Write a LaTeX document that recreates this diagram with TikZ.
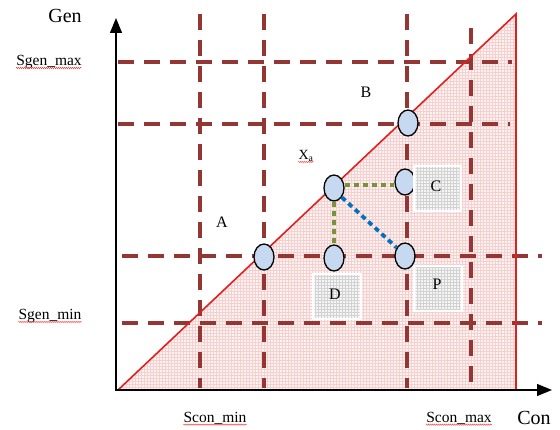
\documentclass[tikz,border=0pt]{standalone}
\usepackage{fontspec}
\setmainfont{Liberation Serif}
\usetikzlibrary{arrows.meta,shapes.geometric,decorations.pathmorphing,calc}
\definecolor{dred}{HTML}{943634}
\definecolor{tri}{HTML}{E0201E}
\definecolor{pinkbg}{HTML}{FDF3F3}
\definecolor{pinkgrid}{HTML}{F6CFCF}
\definecolor{ellfill}{HTML}{C6D9F1}
\definecolor{dgreen}{HTML}{77933C}
\definecolor{dblue}{HTML}{0070C0}
\tikzset{
  dline/.style={dred, line width=3.6pt, dash pattern=on 16pt off 10pt},
  pt/.style={ellipse, draw=black, line width=1.3pt, fill=ellfill, minimum width=20pt, minimum height=26pt, inner sep=0pt},
  gdot/.style={dgreen, line width=3.8pt, dash pattern=on 5pt off 4pt},
  bdot/.style={dblue, line width=3.8pt, dash pattern=on 5pt off 4pt},
  lab/.style={font=\fontsize{15.5}{17}\selectfont, inner sep=0pt},
  let/.style={font=\fontsize{16}{18}\selectfont, inner sep=0pt},
  big/.style={font=\fontsize{20}{22}\selectfont, inner sep=0pt},
  squig/.style={red!80, line width=0.4pt, decorate, decoration={zigzag, amplitude=0.7pt, segment length=2pt}},
}
\begin{document}
\begin{tikzpicture}[x=1pt,y=-1pt]
\useasboundingbox (0,0) rectangle (560,430);
% triangle fill with grid
\begin{scope}
\clip (118,390) -- (516,14) -- (516,390) -- cycle;
\fill[pinkbg] (118,14) rectangle (516,390);
\draw[pinkgrid, line width=0.3pt, step=3pt] (118,12) grid (518,392);
\end{scope}
% dashed grid lines
\draw[dline] (118,62) -- (512,62);
\draw[dline] (118,124) -- (510,124);
\draw[dline] (122,256) -- (542,256);
\draw[dline] (122,323) -- (542,323);
\draw[dline] (200,14) -- (200,388);
\draw[dline] (264,14) -- (264,388);
\draw[dline] (407,14) -- (407,388);
\draw[dline] (471,28) -- (471,388);
% triangle outline
\draw[tri, line width=1.6pt] (118,390) -- (516,14) -- (516,390) -- cycle;
% axes
\draw[black, line width=1.3pt, -{Triangle[length=15pt,width=12pt]}] (116,391) -- (116,18);
\draw[black, line width=1.3pt, -{Triangle[length=15pt,width=12pt]}] (116,390) -- (552,390);
% ellipses
\node[pt] (e1) at (264,257) {};
\node[pt] (xa) at (334,188) {};
\node[pt] (e3) at (408,123) {};
\node[pt] (ec) at (405,182) {};
\node[pt] (ed) at (334,258) {};
\node[pt] (ep) at (405,256) {};
% boxes
\foreach \ax/\ay/\bx/\by in {413/165/462/212, 312/273/362/320, 413/265/463/312}{
  \fill[white] (\ax,\ay) rectangle (\bx,\by);
  \begin{scope}
  \path[clip] (\ax+2.5,\ay+2.5) rectangle (\bx-2.5,\by-2.5);
  \fill[gray!8] (\ax,\ay) rectangle (\bx,\by);
  \draw[gray!35, line width=0.3pt, step=3pt] (300,150) grid (480,330);
  \end{scope}
}
\node[let] (lc) at (436,186) {C};
\node[let] (ld) at (335,294) {D};
\node[let] (lp) at (437,284) {P};
% dotted connectors
\draw[gdot] ($(xa.east)+(0,-3)$) -- ($(ec.west)+(0,3)$);
\draw[gdot] (xa.south) -- (ed.north);
\draw[bdot] (xa.-50) -- (ep.135);
% labels
\node[big] (gen) at (65,16) {Gen};
\node[big] (con) at (534,418) {Con};
\node[lab] (smax) at (49,62) {Sgen\_max};
\node[lab] (smin) at (50,316) {Sgen\_min};
\node[lab] (cmin) at (215,418) {Scon\_min};
\node[lab] (cmax) at (459,418) {Scon\_max};
\node[let] (la) at (222,222) {A};
\node[let] (lb) at (366,92) {B};
\node[lab, font=\fontsize{14}{15}\selectfont] (lx) at (306,156) {X\textsubscript{a}};
% spelling squiggles
\foreach \n in {smax,smin,cmin,cmax,lx}{
  \draw[squig] ($(\n.base west)+(0,2.5)$) -- ($(\n.base east)+(0,2.5)$);
}
\end{tikzpicture}
\end{document}
